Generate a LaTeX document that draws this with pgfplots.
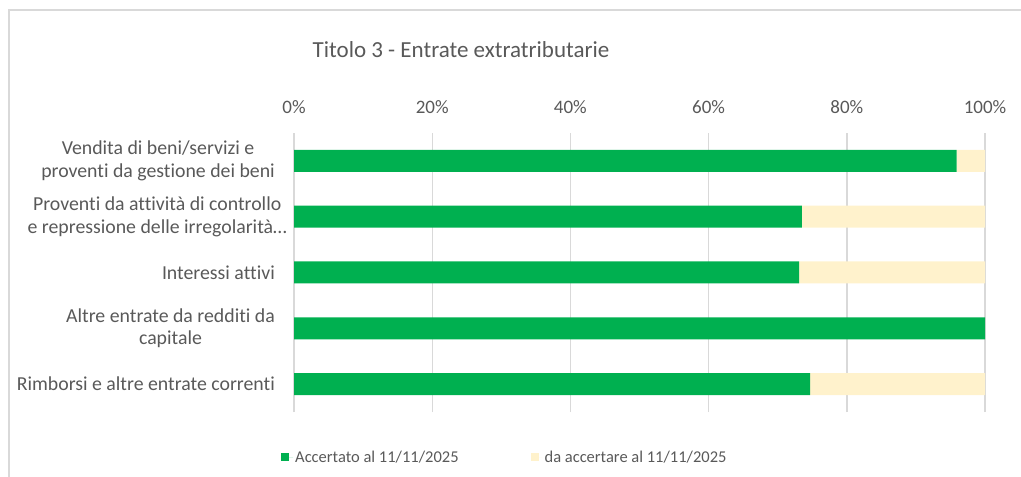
\documentclass[border=0pt]{standalone}
\usepackage{pgfplots}
\pgfplotsset{compat=1.18}
\usepackage{fontspec}
\setmainfont{Carlito}[Ligatures=NoCommon]
\definecolor{accgreen}{HTML}{00B050}
\definecolor{daacc}{HTML}{FFF2CC}
\definecolor{gridgray}{HTML}{D9D9D9}
\definecolor{txt}{HTML}{595959}
\begin{document}
\begin{tikzpicture}
\path[use as bounding box] (0bp,0bp) rectangle (1021bp,477bp);
\draw[gridgray, line width=1.2bp] (9bp,0bp) -- (9bp,467bp) -- (1021bp,467bp);
\node[text=txt, font=\fontsize{23bp}{27bp}\selectfont, anchor=base, inner sep=0pt] at (461bp,419bp) {Titolo 3 - Entrate extratributarie};
\begin{axis}[
  at={(294bp,65bp)}, anchor=south west,
  width=691bp, height=279bp, scale only axis,
  xbar stacked, bar width=22bp,
  xmin=0, xmax=100, ymin=-0.5, ymax=4.5,
  xtick={0,20,40,60,80,100},
  xticklabels={0\%,20\%,40\%,60\%,80\%,100\%},
  xticklabel pos=upper,
  xticklabel style={font=\fontsize{19bp}{22bp}\selectfont, text=txt, inner sep=0pt, anchor=base, yshift=19bp},
  ytick={0,1,2,3,4},
  yticklabels={Rimborsi e altre entrate correnti,{Altre entrate da redditi da\\capitale},Interessi attivi,{Proventi da attività di controllo\hspace*{-12bp}\\e repressione delle irregolarità…\hspace*{-12bp}},{Vendita di beni/servizi e\\proventi da gestione dei beni}},
  yticklabel style={align=center, font=\fontsize{19.8bp}{22.5bp}\selectfont, text=txt, inner sep=0pt, xshift=-19bp},
  major tick length=0pt,
  axis line style={draw=none},
  xmajorgrids, ymajorgrids=false,
  grid style={gridgray, line width=1.4bp},
  legend style={at={(axis description cs:-0.0188,-0.162)}, anchor=west, draw=none, fill=none,
    legend columns=2, font=\fontsize{16.5bp}{19bp}\selectfont, text=txt, inner sep=0pt,
    /tikz/every even column/.append style={column sep=70bp}},
  legend cell align=left,
  legend image code/.code={\fill[#1] (0bp,-4bp) rectangle (8bp,4bp); \path (8bp,0bp) -- (12bp,0bp);},
]
\addplot[fill=accgreen, draw=none] coordinates {(74.7,0) (100,1) (73.1,2) (73.5,3) (95.9,4)};
\addplot[fill=daacc, draw=none] coordinates {(25.3,0) (0,1) (26.9,2) (26.5,3) (4.1,4)};
\legend{Accertato al 11/11/2025, da accertare al 11/11/2025}
\end{axis}
\end{tikzpicture}
\end{document}
